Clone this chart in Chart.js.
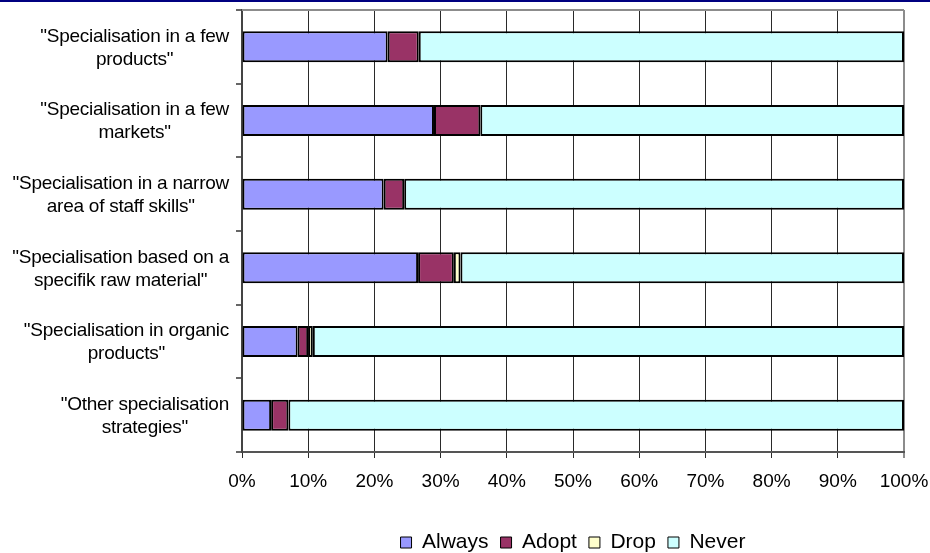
<!DOCTYPE html>
<html>
<head>
<meta charset="utf-8">
<script src="https://cdn.jsdelivr.net/npm/chart.js@4/dist/chart.umd.min.js"></script>
<style>
  html, body { margin: 0; padding: 0; background: #ffffff; }
  #wrap { width: 930px; height: 553px; }
</style>
</head>
<body>
<div id="wrap"><canvas id="c" width="930" height="553"></canvas></div>
<script>
// Specialisation strategies (two-line category labels)
const categories = [
  ['"Specialisation in a few', 'products"'],
  ['"Specialisation in a few', 'markets"'],
  ['"Specialisation in a narrow', 'area of staff skills"'],
  ['"Specialisation based on a', 'specifik raw material"'],
  ['"Specialisation in organic', 'products"'],
  ['"Other specialisation', 'strategies"']
];

// Share of respondents (%) per answer
const always = [22.0, 29.0, 21.4, 26.6, 8.4, 4.4];
const adopt  = [4.7, 7.0, 3.1, 5.4, 1.6, 2.6];
const drop   = [0, 0, 0, 1.0, 0.7, 0];
const never  = [73.3, 64.0, 75.5, 67.0, 89.3, 93.0];

const xTicks = [0, 10, 20, 30, 40, 50, 60, 70, 80, 90, 100];

const FONT = 'Liberation Sans, Arial, sans-serif';

function ds(label, data, color) {
  return {
    label, data,
    backgroundColor: color,
    borderColor: '#000000',
    borderWidth: 2,
    borderSkipped: false,
    inflateAmount: 0,
    categoryPercentage: 1.0,
    barPercentage: 0.42
  };
}

// Category labels: each block right-aligned, lines centred inside the block
const categoryLabels = {
  id: 'categoryLabels',
  afterDraw(chart) {
    const ctx = chart.ctx;
    const yScale = chart.scales.y;
    const rightEdge = 229;
    const lineH = 23;
    ctx.save();
    ctx.font = '19px ' + FONT;
    ctx.letterSpacing = '-0.25px';
    ctx.fillStyle = '#000000';
    ctx.textBaseline = 'middle';
    ctx.textAlign = 'center';
    categories.forEach((lines, i) => {
      const yc = yScale.getPixelForValue(i) + 1;
      const w = Math.max(...lines.map(l => ctx.measureText(l).width));
      const cx = rightEdge - w / 2;
      const y0 = yc - (lines.length - 1) * lineH / 2;
      lines.forEach((l, k) => ctx.fillText(l, cx, y0 + k * lineH));
    });
    ctx.restore();
  }
};

// Plot frame (top edge) and the thin banner rule across the top of the page
const frame = {
  id: 'frame',
  beforeDraw(chart) {
    const ctx = chart.ctx;
    ctx.save();
    ctx.fillStyle = '#000080';
    ctx.fillRect(0, 0, chart.width, 2);
    ctx.restore();
  },
  afterDatasetsDraw(chart) {
    const { left, right, top } = chart.chartArea;
    const ctx = chart.ctx;
    ctx.save();
    ctx.strokeStyle = '#8c8c8c';
    ctx.lineWidth = 2;
    ctx.beginPath();
    ctx.moveTo(left, top);
    ctx.lineTo(right, top);
    ctx.stroke();
    ctx.restore();
  }
};

new Chart(document.getElementById('c'), {
  type: 'bar',
  data: {
    labels: categories,
    datasets: [
      ds('Always', always, '#9999FF'),
      ds('Adopt', adopt, '#993366'),
      ds('Drop', drop, '#FFFFCC'),
      ds('Never', never, '#CCFFFF')
    ]
  },
  options: {
    indexAxis: 'y',
    responsive: false,
    animation: false,
    devicePixelRatio: 1,
    layout: { padding: { top: 10, right: 26, left: 0, bottom: -10 } },
    plugins: {
      tooltip: { enabled: false },
      legend: {
        position: 'bottom',
        fullSize: false,
        labels: {
          font: { family: FONT, size: 21 },
          color: '#000000',
          boxWidth: 11,
          boxHeight: 11,
          padding: 12,
          generateLabels(chart) {
            return chart.data.datasets.map((d, i) => ({
              text: d.label,
              fillStyle: d.backgroundColor,
              strokeStyle: '#000000',
              lineWidth: 1,
              datasetIndex: i,
              hidden: false
            }));
          }
        }
      }
    },
    scales: {
      x: {
        stacked: true,
        min: 0,
        max: 100,
        afterBuildTicks(scale) { scale.ticks = xTicks.map(v => ({ value: v })); },
        afterFit(scale) {
          scale.height = 68;
          scale.paddingLeft = 0;
          scale.paddingRight = 0;
        },
        ticks: {
          font: { family: FONT, size: 19 },
          color: '#000000',
          padding: 12,
          maxRotation: 0,
          callback: v => v + '%'
        },
        grid: {
          color: c => (c.tick && c.tick.value === 100) ? '#8c8c8c' : '#2a2a2a',
          lineWidth: c => (c.tick && c.tick.value === 100) ? 2 : 1,
          tickLength: 6,
          drawTicks: true
        },
        border: { color: '#555555', width: 2 }
      },
      y: {
        stacked: true,
        afterFit(scale) { scale.width = 242; },
        ticks: { display: false },
        grid: {
          drawOnChartArea: false,
          drawTicks: true,
          tickLength: 6,
          offset: true,
          color: '#666666',
          lineWidth: 2
        },
        border: { color: '#444444', width: 2 }
      }
    }
  },
  plugins: [categoryLabels, frame]
});
</script>
</body>
</html>
